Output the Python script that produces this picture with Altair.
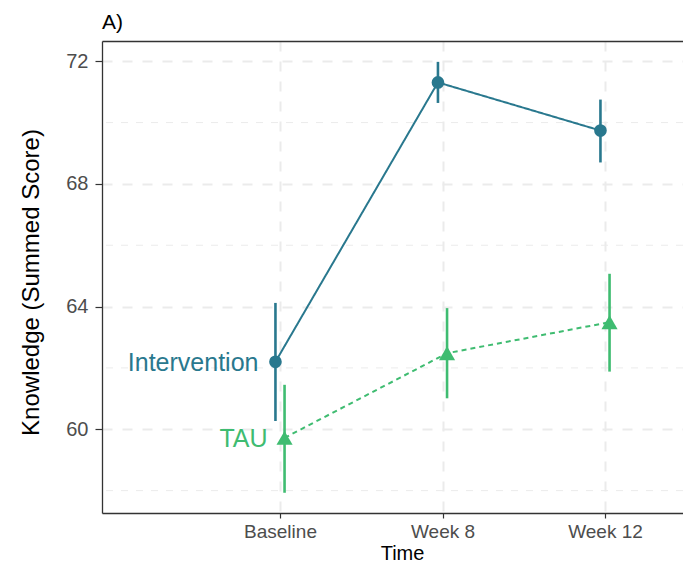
import json
import altair as alt
import pandas as pd

# ---- data ----
time_labels = ["Baseline", "Week 8", "Week 12"]
time_index = [1, 2, 3]
groups = ["Intervention", "TAU"]

int_mean = [62.20, 71.31, 69.74]
int_lo = [60.27, 70.64, 68.70]
int_hi = [64.12, 71.98, 70.75]

tau_mean = [59.72, 62.48, 63.49]
tau_lo = [57.93, 61.01, 61.88]
tau_hi = [61.45, 63.95, 65.07]

y_major = [60, 64, 68, 72]
y_minor = [58, 62, 66, 70]

colors = ["#29788E", "#3FBC71"]
dodge = {"Intervention": -0.028, "TAU": 0.028}

rows = []
for g, m, lo, hi in [("Intervention", int_mean, int_lo, int_hi), ("TAU", tau_mean, tau_lo, tau_hi)]:
    for t, mm, l, h in zip(time_index, m, lo, hi):
        rows.append({"group": g, "t": t, "x": t + dodge[g], "mean": mm, "lo": l, "hi": h})
df = pd.DataFrame(rows)
minor_df = pd.DataFrame({"y": y_minor})

FONT = "Liberation Sans"
BORDER = "#333333"
label_expr = json.dumps(time_labels) + "[datum.value - 1]"

W, H = 581, 472

x_scale = alt.Scale(domain=[-0.0954, 3.48], nice=False, zero=False)
y_scale = alt.Scale(domain=[57.27, 72.66], nice=False, zero=False)

x_axis = alt.Axis(values=time_index, labelExpr=label_expr, title="Time",
                  grid=True, gridDash=[10, 10], gridColor="#EBEBEB", gridWidth=2,
                  tickSize=5, tickColor=BORDER, tickWidth=1.2,
                  labelColor="#4D4D4D", labelFontSize=19, labelPadding=4, labelFont=FONT,
                  titleFont=FONT, titleFontSize=20, titleColor="black", titleFontWeight="normal",
                  titlePadding=2.5, titleX=300, domain=True, domainColor=BORDER, domainWidth=1.3,
                  labelFlush=False)
x_axis_top = alt.Axis(orient="top", labels=False, ticks=False, grid=False, title=None,
                      domain=True, domainColor=BORDER, domainWidth=1.3)
y_axis = alt.Axis(values=y_major, title="Knowledge (Summed Score)",
                  grid=True, gridDash=[10, 10], gridColor="#EBEBEB", gridWidth=2,
                  tickSize=7, tickColor=BORDER, tickWidth=1.2,
                  labelColor="#4D4D4D", labelFontSize=20, labelPadding=7, labelFont=FONT,
                  titleFont=FONT, titleFontSize=24, titleColor="black", titleFontWeight="normal",
                  titlePadding=22, titleY=241, domain=True, domainColor=BORDER, domainWidth=1.3,
                  labelFlush=False)

color = alt.Color("group:N", scale=alt.Scale(domain=groups, range=colors), legend=None)

base = alt.Chart(df)

minor = alt.Chart(minor_df).mark_rule(color="#EBEBEB", strokeWidth=1, strokeDash=[7, 8]).encode(
    y=alt.Y("y:Q", scale=y_scale, axis=y_axis)
)

lines = base.mark_line(strokeWidth=2).encode(
    x=alt.X("x:Q", scale=x_scale, axis=x_axis),
    y=alt.Y("mean:Q", scale=y_scale, axis=y_axis),
    color=color,
    strokeDash=alt.StrokeDash("group:N", scale=alt.Scale(domain=groups, range=[[1, 0], [5, 4]]), legend=None),
)

bars = base.mark_rule(strokeWidth=2.6).encode(
    x=alt.X("x:Q", scale=x_scale, axis=None),
    y=alt.Y("lo:Q", scale=y_scale, axis=y_axis),
    y2="hi:Q",
    color=color,
)

points = base.mark_point(filled=True, opacity=1).encode(
    x=alt.X("x:Q", scale=x_scale, axis=None),
    y=alt.Y("mean:Q", scale=y_scale, axis=y_axis),
    color=color,
    shape=alt.Shape("group:N", scale=alt.Scale(domain=groups, range=["circle", "triangle-up"]), legend=None),
    size=alt.Size("group:N", scale=alt.Scale(domain=groups, range=[160, 260]), legend=None),
)

labels = base.transform_filter(alt.datum.t == 1).mark_text(
    align="right", baseline="middle", dx=-17, dy=1, fontSize=25, font=FONT
).encode(
    x=alt.X("x:Q", scale=x_scale, axis=x_axis_top),
    y=alt.Y("mean:Q", scale=y_scale, axis=y_axis),
    text="group:N",
    color=color,
)

chart = alt.layer(minor, lines, bars, points, labels).resolve_axis(x="independent").properties(
    width=W, height=H,
    title=alt.TitleParams("A)", anchor="start", frame="group", fontSize=21, font=FONT,
                          fontWeight="normal", color="black", offset=8.5),
    autosize=alt.AutoSizeParams(type="none"),
    padding={"left": 94, "top": 33, "right": 0, "bottom": 51},
).configure_view(stroke=None)

chart.save("out.html", embed_options={"renderer": "svg", "actions": False})
